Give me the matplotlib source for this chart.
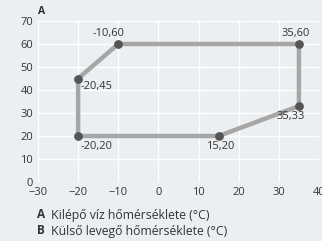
import matplotlib
matplotlib.use("Agg")
import matplotlib.pyplot as plt

x_vals = [-20, -20, -10, 35, 35, 15, -20]
y_vals = [20, 45, 60, 60, 33, 20, 20]
labels = ["-20,20", "-20,45", "-10,60", "35,60", "35,33", "15,20"]
x_ticks = [-30, -20, -10, 0, 10, 20, 30, 40]
y_ticks = [0, 10, 20, 30, 40, 50, 60, 70]

plt.rcParams['font.family'] = ['Open Sans', 'DejaVu Sans']
bg = '#eceff1'
txt = '#333333'
fig = plt.figure(figsize=(3.22, 2.41), dpi=100, facecolor=bg)
ax = fig.add_axes([38/322, 1-182/241, (319-38)/322, (182-21)/241])
ax.set_facecolor(bg)
ax.set_xlim(-30, 40)
ax.set_ylim(0, 70)
ax.set_xticks(x_ticks)
ax.set_yticks(y_ticks)
ax.grid(True, color='white', linewidth=1.0)
ax.set_axisbelow(True)
for s in ax.spines.values():
    s.set_visible(False)
ax.tick_params(length=0, labelsize=8, colors=txt, pad=3.5)

ax.plot(x_vals, y_vals, color='#a6a6a6', linewidth=3.2, solid_joinstyle='round', zorder=2)
ax.scatter(x_vals[:-1], y_vals[:-1], s=28, color='#555555', zorder=3)

offsets = [(0.5, -2.0, 'left', 'top'),
           (0.5, -1.0, 'left', 'top'),
           (-2.5, 2.0, 'center', 'bottom'),
           (-0.8, 2.0, 'center', 'bottom'),
           (-2.0, -2.0, 'center', 'top'),
           (0.5, -2.0, 'center', 'top')]
for (xv, yv, lab, (dx, dy, ha, va)) in zip(x_vals, y_vals, labels, offsets):
    ax.text(xv + dx, yv + dy, lab, ha=ha, va=va, fontsize=8, color=txt, zorder=4)

fig.text(38/322, 1-12/241, 'A', fontsize=7.5, fontweight='bold', color=txt, ha='left', va='center')
fig.text(37/322, 1-215/241, 'A', fontsize=8.5, fontweight='bold', color=txt, ha='left', va='center')
fig.text(51/322, 1-215/241, 'Kilépő víz hőmérséklete (°C)', fontsize=8.8, color=txt, ha='left', va='center')
fig.text(37/322, 1-231/241, 'B', fontsize=8.5, fontweight='bold', color=txt, ha='left', va='center')
fig.text(51/322, 1-231/241, 'Külső levegő hőmérséklete (°C)', fontsize=8.8, color=txt, ha='left', va='center')

fig.savefig('out.png', dpi=100, facecolor=bg)
